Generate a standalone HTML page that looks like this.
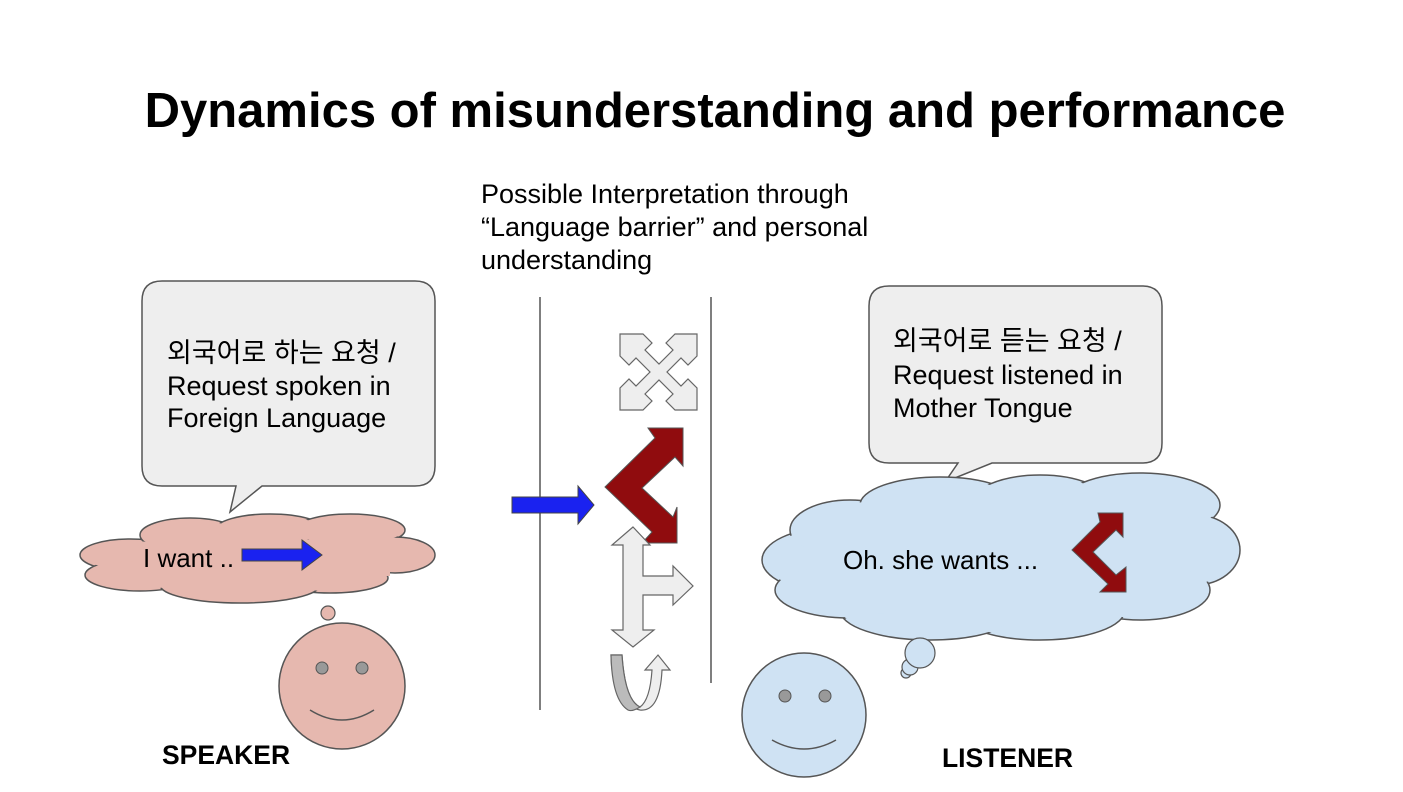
<!DOCTYPE html>
<html><head><meta charset="utf-8"><style>
body{margin:0;background:#fff}
svg text{font-family:"Liberation Sans","Noto Sans CJK KR",sans-serif}
</style></head><body>
<svg width="1403" height="787" viewBox="0 0 1403 787" xmlns="http://www.w3.org/2000/svg">
<rect width="1403" height="787" fill="#fff"/>
<text x="715" y="127" font-size="49" font-weight="bold" text-anchor="middle">Dynamics of misunderstanding and performance</text>
<g font-size="27" fill="#000">
<text x="481" y="203">Possible Interpretation through</text>
<text x="481" y="236">“Language barrier” and personal</text>
<text x="481" y="269">understanding</text>
</g>
<line x1="540" y1="297" x2="540" y2="710" stroke="#555" stroke-width="1.5"/>
<line x1="711" y1="297" x2="711" y2="683" stroke="#555" stroke-width="1.5"/>

<path d="M162,281 H415 Q435,281 435,301 V466 Q435,486 415,486 H262 L230,512 L236,486 H162 Q142,486 142,466 V301 Q142,281 162,281 Z" fill="#eeeeee" stroke="#555" stroke-width="1.5"/>
<g font-size="27"><text x="167" y="362">외국어로 하는 요청 /</text><text x="167" y="395">Request spoken in</text><text x="167" y="427">Foreign Language</text></g>

<g fill="#e6b8af" stroke="#555" stroke-width="1.5">
<ellipse cx="130" cy="555" rx="50" ry="16"/><ellipse cx="140" cy="575" rx="55" ry="16"/>
<ellipse cx="190" cy="535" rx="50" ry="17"/><ellipse cx="270" cy="530" rx="55" ry="16"/>
<ellipse cx="350" cy="530" rx="55" ry="16"/><ellipse cx="395" cy="555" rx="40" ry="18"/>
<ellipse cx="330" cy="578" rx="58" ry="15"/><ellipse cx="240" cy="585" rx="80" ry="18"/>
</g>
<g fill="#e6b8af">
<ellipse cx="130" cy="555" rx="48" ry="14"/><ellipse cx="140" cy="575" rx="53" ry="14"/>
<ellipse cx="190" cy="535" rx="48" ry="15"/><ellipse cx="270" cy="530" rx="53" ry="14"/>
<ellipse cx="350" cy="530" rx="53" ry="14"/><ellipse cx="395" cy="555" rx="38" ry="16"/>
<ellipse cx="330" cy="578" rx="56" ry="13"/><ellipse cx="240" cy="585" rx="78" ry="16"/>
<rect x="150" y="540" width="240" height="36"/>
</g>
<text x="143" y="567" font-size="26">I want  ..</text>
<polygon points="242,549 302,549 302,540 322,555 302,570 302,561 242,561" fill="#1a22f0" stroke="#444" stroke-width="1"/>

<circle cx="328" cy="613" r="7" fill="#e6b8af" stroke="#555" stroke-width="1.2"/>
<circle cx="342" cy="686" r="63" fill="#e6b8af" stroke="#555" stroke-width="1.5"/>
<circle cx="322" cy="668" r="6" fill="#999" stroke="#555"/>
<circle cx="362" cy="668" r="6" fill="#999" stroke="#555"/>
<path d="M310,710 Q342,730 374,710" fill="none" stroke="#555" stroke-width="1.5"/>
<text x="162" y="764" font-size="26.5" font-weight="bold">SPEAKER</text>

<polygon points="512,497 578,497 578,486 594,505 578,524 578,513 512,513" fill="#1a22f0" stroke="#444" stroke-width="1"/>

<polygon points="620,334 643,334 652,343 645,350 659,364 673,350 666,343 675,334 697,334 697,356 688,365 681,358 667,372 681,386 688,379 697,388 697,410 675,410 666,401 673,394 659,380 645,394 652,401 643,410 620,410 620,388 629,379 636,386 650,372 636,358 629,365 620,356" fill="#eeeeee" stroke="#666" stroke-width="1.2"/>

<polygon points="605,487 655,438 648,428 683,428 683,466 675,457 642,488 673,517 677,507 677,543 642,543 652,532" fill="#900c0e" stroke="#555" stroke-width="1"/>

<polygon points="633,527 650,545 643,545 643,576 673,576 673,566 693,586 673,605 673,595 643,595 643,630 654,630 633,647 612,630 623,630 623,545 612,545" fill="#eeeeee" stroke="#666" stroke-width="1.2"/>

<path d="M611,655 L622,655 Q625,700 640,707 Q650,700 652,670 L645,670 L658,655 L670,670 L662,670 Q660,712 640,710 Q612,705 611,655 Z" fill="#eeeeee" stroke="#666" stroke-width="1.2"/>
<path d="M611,655 L622,655 Q625,700 640,707 Q632,712 628,710 Q612,700 611,655 Z" fill="#bbbbbb" stroke="#666" stroke-width="1.2"/>

<path d="M889,286 H1142 Q1162,286 1162,306 V443 Q1162,463 1142,463 H992 L945,482 L958,463 H889 Q869,463 869,443 V306 Q869,286 889,286 Z" fill="#eeeeee" stroke="#555" stroke-width="1.5"/>
<g font-size="27"><text x="893" y="350">외국어로 듣는 요청 /</text><text x="893" y="384">Request listened in</text><text x="893" y="417">Mother Tongue</text></g>

<g fill="#cfe2f3" stroke="#555" stroke-width="1.5">
<ellipse cx="830" cy="560" rx="68" ry="32"/><ellipse cx="850" cy="530" rx="60" ry="30"/>
<ellipse cx="940" cy="505" rx="80" ry="28"/><ellipse cx="1040" cy="505" rx="70" ry="30"/>
<ellipse cx="1140" cy="505" rx="80" ry="32"/><ellipse cx="1195" cy="550" rx="45" ry="35"/>
<ellipse cx="1140" cy="590" rx="70" ry="30"/><ellipse cx="1040" cy="610" rx="85" ry="30"/>
<ellipse cx="930" cy="610" rx="90" ry="30"/><ellipse cx="850" cy="590" rx="75" ry="28"/>
</g>
<g fill="#cfe2f3">
<ellipse cx="830" cy="560" rx="66" ry="30"/><ellipse cx="850" cy="530" rx="58" ry="28"/>
<ellipse cx="940" cy="505" rx="78" ry="26"/><ellipse cx="1040" cy="505" rx="68" ry="28"/>
<ellipse cx="1140" cy="505" rx="78" ry="30"/><ellipse cx="1195" cy="550" rx="43" ry="33"/>
<ellipse cx="1140" cy="590" rx="68" ry="28"/><ellipse cx="1040" cy="610" rx="83" ry="28"/>
<ellipse cx="930" cy="610" rx="88" ry="28"/><ellipse cx="850" cy="590" rx="73" ry="26"/>
<rect x="820" y="515" width="360" height="85"/>
</g>
<text x="843" y="569" font-size="26">Oh. she wants ...</text>
<polygon points="1072,550 1100,522 1098,513 1123,513 1123,537 1116,530 1093,552 1116,575 1126,567 1126,592 1100,592 1108,584" fill="#900c0e" stroke="#555" stroke-width="1"/>

<circle cx="906" cy="673" r="5" fill="#cfe2f3" stroke="#555" stroke-width="1.2"/>
<circle cx="910" cy="667" r="8" fill="#cfe2f3" stroke="#555" stroke-width="1.2"/>
<circle cx="920" cy="653" r="15" fill="#cfe2f3" stroke="#555" stroke-width="1.2"/>
<circle cx="804" cy="715" r="62" fill="#cfe2f3" stroke="#555" stroke-width="1.5"/>
<circle cx="785" cy="696" r="6" fill="#999" stroke="#555"/>
<circle cx="825" cy="696" r="6" fill="#999" stroke="#555"/>
<path d="M772,740 Q804,758 836,740" fill="none" stroke="#555" stroke-width="1.5"/>
<text x="942" y="767" font-size="26.5" font-weight="bold">LISTENER</text>
</svg>
</body></html>
